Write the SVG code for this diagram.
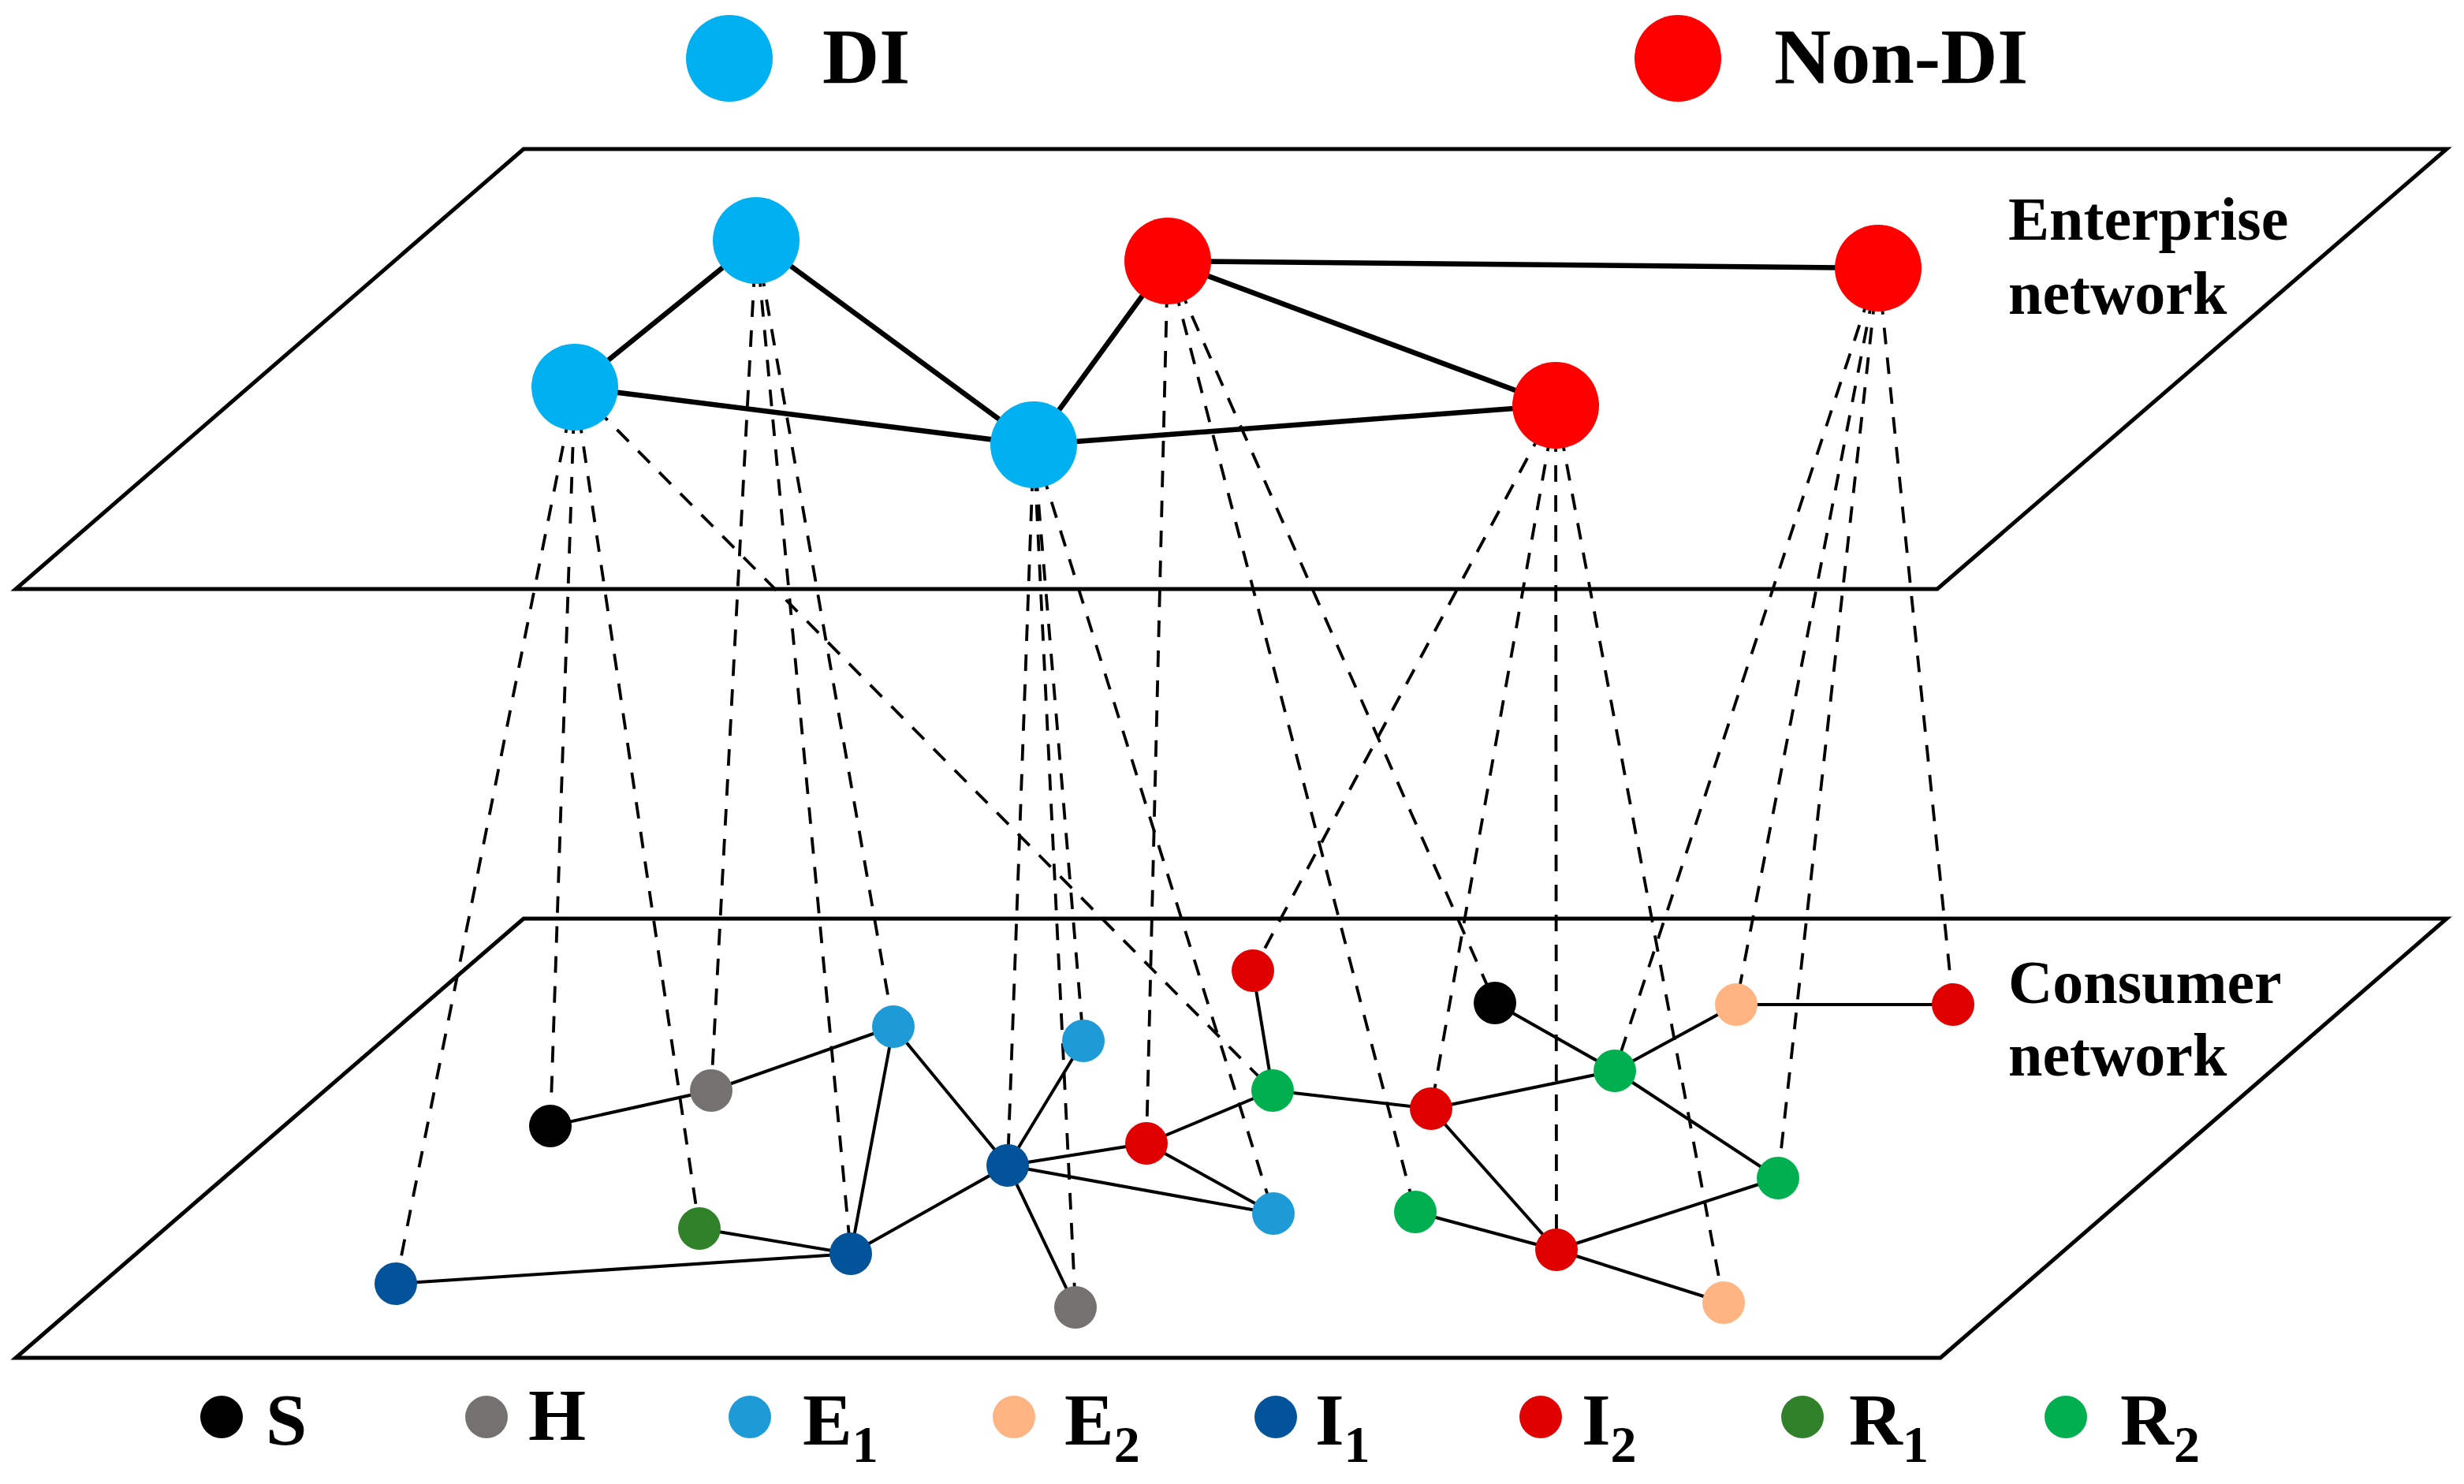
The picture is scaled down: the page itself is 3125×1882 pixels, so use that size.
<svg xmlns="http://www.w3.org/2000/svg" width="3125" height="1882" viewBox="0 0 3125 1882">
<style>
.plane{fill:#fff;stroke:#000;stroke-width:5;stroke-linejoin:miter}
.ent{stroke:#000;stroke-width:6.5;fill:none}
.con{stroke:#000;stroke-width:4;fill:none}
.dash{stroke:#000;stroke-width:3.8;stroke-dasharray:21 17;fill:none}
.t{font-family:"Liberation Serif","Times New Roman",serif;font-weight:bold;fill:#000}
.big{font-size:100px}
.lab{font-size:78px}
.lg{font-size:94px}
.sub{font-size:66px}
.di{fill:#00B0F0}.nd{fill:#FF0000}
.S{fill:#000}.H{fill:#767171}.E1{fill:#1E9BD7}.E2{fill:#FFB482}
.I1{fill:#02539A}.I2{fill:#E00000}.R1{fill:#31812B}.R2{fill:#00B050}
</style>
<rect width="3125" height="1882" fill="#fff"/>
<g id="legend-top">
<circle class="di" cx="925" cy="74" r="55"/>
<text class="t big" x="1043" y="105">DI</text>
<circle class="nd" cx="2128" cy="74" r="55"/>
<text class="t big" x="2250" y="105">Non-DI</text>
</g>
<g id="planes">
<polygon id="enterprise-plane" class="plane" points="664,189 3103,189 2457,747 20,747"/>
<polygon id="consumer-plane" class="plane" points="664,1165 3103,1165 2461,1722 20,1722"/>
<text class="t lab" x="2547" y="304">Enterprise</text>
<text class="t lab" x="2547" y="398">network</text>
<text class="t lab" x="2547" y="1272">Consumer</text>
<text class="t lab" x="2547" y="1364">network</text>
</g>
<g id="connectors">
<line class="dash" x1="729" y1="491" x2="502" y2="1628"/>
<line class="dash" x1="729" y1="491" x2="698" y2="1428"/>
<line class="dash" x1="729" y1="491" x2="887" y2="1558"/>
<line class="dash" x1="729" y1="491" x2="1614" y2="1383"/>
<line class="dash" x1="959" y1="305" x2="902" y2="1383"/>
<line class="dash" x1="959" y1="305" x2="1079" y2="1590"/>
<line class="dash" x1="959" y1="305" x2="1133" y2="1302"/>
<line class="dash" x1="1311" y1="564" x2="1278" y2="1478"/>
<line class="dash" x1="1311" y1="564" x2="1374" y2="1320"/>
<line class="dash" x1="1311" y1="564" x2="1364" y2="1658"/>
<line class="dash" x1="1311" y1="564" x2="1615" y2="1539"/>
<line class="dash" x1="1481" y1="331" x2="1454" y2="1450"/>
<line class="dash" x1="1481" y1="331" x2="1795" y2="1537"/>
<line class="dash" x1="1481" y1="331" x2="1896" y2="1272"/>
<line class="dash" x1="1973" y1="514" x2="1589" y2="1231"/>
<line class="dash" x1="1973" y1="514" x2="1815" y2="1406"/>
<line class="dash" x1="1973" y1="514" x2="1974" y2="1585"/>
<line class="dash" x1="1973" y1="514" x2="2186" y2="1652"/>
<line class="dash" x1="2382" y1="340" x2="2048" y2="1358"/>
<line class="dash" x1="2382" y1="340" x2="2202" y2="1274"/>
<line class="dash" x1="2382" y1="340" x2="2255" y2="1494"/>
<line class="dash" x1="2382" y1="340" x2="2477" y2="1274"/>
<line class="ent" x1="959" y1="305" x2="729" y2="491"/>
<line class="ent" x1="959" y1="305" x2="1311" y2="564"/>
<line class="ent" x1="729" y1="491" x2="1311" y2="564"/>
<line class="ent" x1="1311" y1="564" x2="1481" y2="331"/>
<line class="ent" x1="1311" y1="564" x2="1973" y2="514"/>
<line class="ent" x1="1481" y1="331" x2="1973" y2="514"/>
<line class="ent" x1="1481" y1="331" x2="2382" y2="340"/>
<line class="con" x1="698" y1="1428" x2="902" y2="1383"/>
<line class="con" x1="902" y1="1383" x2="1133" y2="1302"/>
<line class="con" x1="1133" y1="1302" x2="1278" y2="1478"/>
<line class="con" x1="1133" y1="1302" x2="1079" y2="1590"/>
<line class="con" x1="1374" y1="1320" x2="1278" y2="1478"/>
<line class="con" x1="1278" y1="1478" x2="1454" y2="1450"/>
<line class="con" x1="1454" y1="1450" x2="1614" y2="1383"/>
<line class="con" x1="1454" y1="1450" x2="1615" y2="1539"/>
<line class="con" x1="1278" y1="1478" x2="1615" y2="1539"/>
<line class="con" x1="1278" y1="1478" x2="1079" y2="1590"/>
<line class="con" x1="1278" y1="1478" x2="1364" y2="1658"/>
<line class="con" x1="887" y1="1558" x2="1079" y2="1590"/>
<line class="con" x1="502" y1="1628" x2="1079" y2="1590"/>
<line class="con" x1="1614" y1="1383" x2="1589" y2="1231"/>
<line class="con" x1="1614" y1="1383" x2="1815" y2="1406"/>
<line class="con" x1="1815" y1="1406" x2="2048" y2="1358"/>
<line class="con" x1="1815" y1="1406" x2="1974" y2="1585"/>
<line class="con" x1="1896" y1="1272" x2="2048" y2="1358"/>
<line class="con" x1="2048" y1="1358" x2="2202" y2="1274"/>
<line class="con" x1="2202" y1="1274" x2="2477" y2="1274"/>
<line class="con" x1="2048" y1="1358" x2="2255" y2="1494"/>
<line class="con" x1="2255" y1="1494" x2="1974" y2="1585"/>
<line class="con" x1="1795" y1="1537" x2="1974" y2="1585"/>
<line class="con" x1="1974" y1="1585" x2="2186" y2="1652"/>
</g>
<g id="enterprise-nodes">
<circle id="ent-A" class="di" cx="959" cy="305" r="55"/>
<circle id="ent-B" class="di" cx="729" cy="491" r="55"/>
<circle id="ent-C" class="di" cx="1311" cy="564" r="55"/>
<circle id="ent-D" class="nd" cx="1481" cy="331" r="55"/>
<circle id="ent-E" class="nd" cx="2382" cy="340" r="55"/>
<circle id="ent-F" class="nd" cx="1973" cy="514" r="55"/>
</g>
<g id="consumer-nodes">
<circle id="c-s1" class="S" cx="698" cy="1428" r="27"/>
<circle id="c-h1" class="H" cx="902" cy="1383" r="27"/>
<circle id="c-e1a" class="E1" cx="1133" cy="1302" r="27"/>
<circle id="c-e1b" class="E1" cx="1374" cy="1320" r="27"/>
<circle id="c-i1c" class="I1" cx="1278" cy="1478" r="27"/>
<circle id="c-i2a" class="I2" cx="1454" cy="1450" r="27"/>
<circle id="c-r2a" class="R2" cx="1614" cy="1383" r="27"/>
<circle id="c-i2t" class="I2" cx="1589" cy="1231" r="27"/>
<circle id="c-e1c" class="E1" cx="1615" cy="1539" r="27"/>
<circle id="c-r1" class="R1" cx="887" cy="1558" r="27"/>
<circle id="c-i1b" class="I1" cx="1079" cy="1590" r="27"/>
<circle id="c-i1l" class="I1" cx="502" cy="1628" r="27"/>
<circle id="c-h2" class="H" cx="1364" cy="1658" r="27"/>
<circle id="c-s2" class="S" cx="1896" cy="1272" r="27"/>
<circle id="c-e2a" class="E2" cx="2202" cy="1274" r="27"/>
<circle id="c-i2r" class="I2" cx="2477" cy="1274" r="27"/>
<circle id="c-r2b" class="R2" cx="2048" cy="1358" r="27"/>
<circle id="c-i2m" class="I2" cx="1815" cy="1406" r="27"/>
<circle id="c-r2c" class="R2" cx="2255" cy="1494" r="27"/>
<circle id="c-r2d" class="R2" cx="1795" cy="1537" r="27"/>
<circle id="c-i2b" class="I2" cx="1974" cy="1585" r="27"/>
<circle id="c-e2b" class="E2" cx="2186" cy="1652" r="27"/>
</g>
<g id="legend-bottom">
<circle class="S" cx="281" cy="1797" r="27"/>
<text class="t lg" x="337" y="1832">S</text>
<circle class="H" cx="617" cy="1797" r="27"/>
<text class="t lg" x="670" y="1826">H</text>
<circle class="E1" cx="951" cy="1797" r="27"/>
<text class="t lg" x="1018" y="1832">E<tspan class="sub" dy="22">1</tspan></text>
<circle class="E2" cx="1286" cy="1797" r="27"/>
<text class="t lg" x="1350" y="1832">E<tspan class="sub" dy="22">2</tspan></text>
<circle class="I1" cx="1618" cy="1797" r="27"/>
<text class="t lg" x="1668" y="1832">I<tspan class="sub" dy="22">1</tspan></text>
<circle class="I2" cx="1954" cy="1797" r="27"/>
<text class="t lg" x="2006" y="1832">I<tspan class="sub" dy="22">2</tspan></text>
<circle class="R1" cx="2286" cy="1797" r="27"/>
<text class="t lg" x="2345" y="1832">R<tspan class="sub" dy="22">1</tspan></text>
<circle class="R2" cx="2620" cy="1797" r="27"/>
<text class="t lg" x="2689" y="1832">R<tspan class="sub" dy="22">2</tspan></text>
</g>
</svg>
